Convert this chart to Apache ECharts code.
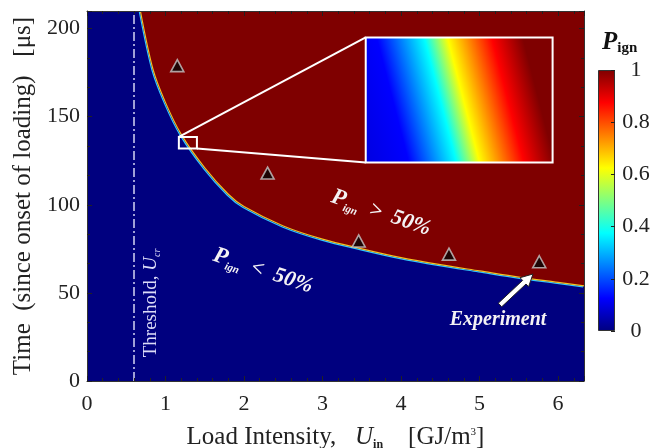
<!DOCTYPE html>
<html>
<head>
<meta charset="utf-8">
<script src="https://cdn.jsdelivr.net/npm/echarts@6/dist/echarts.min.js"></script>
<style>html,body{margin:0;padding:0;background:#fff;}#c{width:657px;height:448px;}</style>
</head>
<body>
<div id="c"></div>
<script>
// ---- data ----
// 50 % ignition-probability boundary (load intensity U_in [GJ/m3], time [us])
const boundaryU = [0.68, 0.84, 1.0, 1.2, 1.5, 1.8, 2.0, 2.5, 3.0, 3.5, 4.0, 4.5, 5.0, 5.5, 6.0, 6.33];
const boundaryT = [210, 177, 158, 140, 121, 106, 99, 88, 80.5, 75, 70, 66, 62.5, 59, 56, 54];
// experiments (triangles)
const expU = [1.15, 2.30, 3.46, 4.61, 5.76];
const expT = [179, 118, 79.5, 72, 67.7];
// threshold U_cr
const thresholdU = 0.6;
// magnified region and inset (data coords)
const zoomU = [1.17, 1.40];
const zoomT = [132, 138.5];
const insetU = [3.55, 5.93];
const insetT = [124, 195];
// axes
const xRange = [0, 6.33];
const yRange = [0, 210];
const cbRange = [0, 1];
// jet colormap levels
const jetLevels = [0, 0.125, 0.375, 0.625, 0.875, 1];
const jetColors = ['#00007f', '#0000ff', '#00ffff', '#ffff00', '#ff0000', '#7f0000'];

const FONT = '"Liberation Serif", "Times New Roman", serif';
const AX = '#222';

const chart = echarts.init(document.getElementById('c'), null, {renderer: 'canvas'});

function baseAxis(extra) {
  return Object.assign({
    type: 'value', z: 10,
    axisLine: {show: true, onZero: false, lineStyle: {color: '#333', width: 1}},
    axisTick: {show: true, inside: true, length: 5, lineStyle: {color: AX, width: 1}},
    minorTick: {show: true, length: 3, lineStyle: {color: AX, width: 1}},
    splitLine: {show: false}, minorSplitLine: {show: false},
    axisLabel: {show: true, fontFamily: FONT, fontSize: 22, color: AX, showMaxLabel: false}
  }, extra);
}

const jetStops = jetLevels.map((v, i) => ({offset: v, color: jetColors[i]}));
// tilted jet gradient for the inset (magnified transition)
const insetGradient = new echarts.graphic.LinearGradient(-0.05, 0.71, 1.05, 0.29, [
  {offset: 0, color: '#0000e0'},
  {offset: 0.2, color: '#0000ff'},
  {offset: 0.415, color: '#00ffff'},
  {offset: 0.52, color: '#ffff00'},
  {offset: 0.72, color: '#ff0000'},
  {offset: 0.86, color: '#7f0000'},
  {offset: 1, color: '#7f0000'}
]);

const white = '#f4f2f4';
const subRich = {
  p: {fill: white, fontFamily: FONT, fontSize: 23, fontStyle: 'italic', fontWeight: 'bold', lineHeight: 26, verticalAlign: 'middle'},
  s: {fill: white, fontFamily: FONT, fontSize: 11, fontStyle: 'italic', fontWeight: 'bold', lineHeight: 12, verticalAlign: 'bottom'},
  t: {fill: white, fontFamily: FONT, fontSize: 22, fontStyle: 'italic', fontWeight: 'bold', lineHeight: 26, verticalAlign: 'middle'}
};

// arrow polygon (Experiment pointer), tail (500,305) -> tip (533,274)
const arrowPts = [[501.7,306.8],[526.0,284.0],[528.6,286.7],[533,274],[520.0,277.7],[522.6,280.4],[498.3,303.2]];

function boxRenderer(fillFn) {
  return function (params, api) {
    const p0 = api.coord([api.value(0), api.value(3)]);
    const p1 = api.coord([api.value(2), api.value(1)]);
    return {
      type: 'rect',
      shape: {x: p0[0], y: p0[1], width: p1[0] - p0[0], height: p1[1] - p0[1]},
      style: {fill: fillFn(), stroke: '#ffffff', lineWidth: 2}
    };
  };
}

const option = {
  animation: false,
  backgroundColor: '#ffffff',
  grid: [
    {left: 87, top: 11, width: 497, height: 370, show: true, backgroundColor: '#00007f', borderWidth: 0,
      containLabel: false, outerBoundsMode: 'none'},
    {left: 598, top: 70, width: 17, height: 261, show: false, containLabel: false, outerBoundsMode: 'none'}
  ],
  xAxis: [
    baseAxis({gridIndex: 0, min: xRange[0], max: xRange[1], interval: 1, position: 'bottom',
      minorTick: {show: true, splitNumber: 5, length: 3, lineStyle: {color: AX}},
      axisLabel: {show: true, fontFamily: FONT, fontSize: 22, color: AX, margin: 12, showMaxLabel: false},
      name: 'Load Intensity,   {i|U}{sub|in}    [GJ/m{sup|3}]', nameLocation: 'middle', nameGap: 42,
      nameTextStyle: {fontFamily: FONT, fontSize: 25, color: AX,
        rich: {
          i: {fontFamily: FONT, fontSize: 25, fontStyle: 'italic', color: AX, lineHeight: 28, verticalAlign: 'middle'},
          sub: {fontFamily: FONT, fontSize: 12, fontWeight: 'bold', color: AX, lineHeight: 13, verticalAlign: 'bottom'},
          sup: {fontFamily: FONT, fontSize: 11, color: AX, lineHeight: 12, verticalAlign: 'top', padding: [4, 0, 0, 0]}
        }}
    }),
    baseAxis({gridIndex: 0, min: xRange[0], max: xRange[1], interval: 1, position: 'top',
      minorTick: {show: true, splitNumber: 5, length: 3, lineStyle: {color: AX}},
      axisLabel: {show: false}}),
    {type: 'category', gridIndex: 1, data: ['cb'], show: false}
  ],
  yAxis: [
    baseAxis({gridIndex: 0, min: yRange[0], max: yRange[1], interval: 50, position: 'left',
      minorTick: {show: true, splitNumber: 3, length: 3, lineStyle: {color: AX}},
      axisLabel: {show: true, fontFamily: FONT, fontSize: 22, color: AX, margin: 7, showMaxLabel: false},
      name: 'Time  (since onset of loading)   [μs]', nameLocation: 'middle', nameGap: 50, nameRotate: 90,
      nameTextStyle: {fontFamily: FONT, fontSize: 25, color: AX}
    }),
    baseAxis({gridIndex: 0, min: yRange[0], max: yRange[1], interval: 50, position: 'right',
      minorTick: {show: true, splitNumber: 3, length: 3, lineStyle: {color: AX}},
      axisLabel: {show: false}}),
    {type: 'value', gridIndex: 1, min: cbRange[0], max: cbRange[1], interval: 0.2, position: 'right', z: 10,
      axisLine: {show: false},
      axisTick: {show: true, inside: true, length: 4, lineStyle: {color: AX}},
      splitLine: {show: false},
      axisLabel: {fontFamily: FONT, fontSize: 22, color: AX, margin: 21, align: 'center'}
    }
  ],
  series: [
    {
      type: 'line', name: 'boundary', xAxisIndex: 0, yAxisIndex: 0, z: 2,
      data: boundaryU.map((u, i) => [u, boundaryT[i]]),
      smooth: 0.3, symbol: 'none', clip: true,
      lineStyle: {color: '#f4c020', width: 1.2, shadowColor: '#30c8ff', shadowBlur: 0, shadowOffsetX: -1, shadowOffsetY: 1},
      areaStyle: {color: '#7f0000', opacity: 1, origin: 'end'},
      emphasis: {disabled: true}, silent: true
    },
    {
      type: 'line', name: 'threshold', xAxisIndex: 0, yAxisIndex: 0, z: 3, data: [], silent: true,
      markLine: {
        silent: true, symbol: ['none', 'none'], label: {show: false},
        lineStyle: {color: '#d4d4f4', width: 1.5, type: [9, 3, 2, 3]},
        data: [{xAxis: thresholdU}]
      }
    },
    {
      type: 'line', name: 'connectors', xAxisIndex: 0, yAxisIndex: 0, z: 4, data: [], silent: true,
      markLine: {
        silent: true, symbol: ['none', 'none'], label: {show: false},
        lineStyle: {color: '#ffffff', width: 2, type: 'solid'},
        data: [
          [{coord: [zoomU[0], zoomT[1]]}, {coord: [insetU[0], insetT[1]]}],
          [{coord: [zoomU[1], zoomT[0]]}, {coord: [insetU[0], insetT[0]]}]
        ]
      }
    },
    {
      type: 'custom', name: 'zoomBox', xAxisIndex: 0, yAxisIndex: 0, z: 5, silent: true, clip: false,
      data: [[zoomU[0], zoomT[0], zoomU[1], zoomT[1]]],
      encode: {x: [0, 2], y: [1, 3]},
      renderItem: boxRenderer(() => 'rgba(0,0,0,0)')
    },
    {
      type: 'custom', name: 'inset', xAxisIndex: 0, yAxisIndex: 0, z: 5, silent: true, clip: false,
      data: [[insetU[0], insetT[0], insetU[1], insetT[1]]],
      encode: {x: [0, 2], y: [1, 3]},
      renderItem: boxRenderer(() => insetGradient)
    },
    {
      type: 'scatter', name: 'Experiment', xAxisIndex: 0, yAxisIndex: 0, z: 6,
      data: expU.map((u, i) => [u, expT[i]]),
      symbol: 'triangle', symbolSize: [13, 12],
      itemStyle: {color: '#050505', borderColor: '#c8c8c8', borderWidth: 1.6},
      silent: true
    },
    {
      type: 'bar', name: 'colorbar', xAxisIndex: 2, yAxisIndex: 2, z: 2,
      data: [cbRange[1]], barWidth: '100%', silent: true,
      itemStyle: {color: {type: 'linear', x: 0, y: 1, x2: 0, y2: 0, colorStops: jetStops}, borderColor: '#333', borderWidth: 1}
    }
  ],
  graphic: [
    {type: 'text', x: 602, y: 30, silent: true,
      style: {text: '{p|P}{s|ign}', rich: {
        p: {fill: '#111', fontFamily: FONT, fontSize: 25, fontStyle: 'italic', fontWeight: 'bold', lineHeight: 26, verticalAlign: 'middle'},
        s: {fill: '#111', fontFamily: FONT, fontSize: 15, fontWeight: 'bold', lineHeight: 16, verticalAlign: 'bottom'}
      }}},
    {type: 'text', x: 151, y: 303, rotation: Math.PI / 2, silent: true, z: 20,
      style: {text: '{a|Threshold, }{i|U}{s|cr}', align: 'center', verticalAlign: 'middle', rich: {
        a: {fill: '#dcdcf8', fontFamily: FONT, fontSize: 19, lineHeight: 22, verticalAlign: 'middle'},
        i: {fill: '#dcdcf8', fontFamily: FONT, fontSize: 19, fontStyle: 'italic', lineHeight: 22, verticalAlign: 'middle'},
        s: {fill: '#dcdcf8', fontFamily: FONT, fontSize: 10, fontStyle: 'italic', lineHeight: 11, verticalAlign: 'bottom'}
      }}},
    {type: 'text', x: 381, y: 213, rotation: -0.33, silent: true, z: 20,
      style: {text: '{p|P}{s|ign}{t|  >  50%}', align: 'center', verticalAlign: 'middle', rich: subRich}},
    {type: 'text', x: 263, y: 271, rotation: -0.32, silent: true, z: 20,
      style: {text: '{p|P}{s|ign}{t|  <  50%}', align: 'center', verticalAlign: 'middle', rich: subRich}},
    {type: 'text', x: 498, y: 320, silent: true, z: 20,
      style: {text: 'Experiment', align: 'center', verticalAlign: 'middle', fill: white,
        fontFamily: FONT, fontSize: 20, fontStyle: 'italic', fontWeight: 'bold'}},
    {type: 'polygon', silent: true, z: 20,
      shape: {points: arrowPts},
      style: {fill: '#ffffff', stroke: '#222', lineWidth: 1}}
  ]
};
chart.setOption(option);
</script>
</body>
</html>
